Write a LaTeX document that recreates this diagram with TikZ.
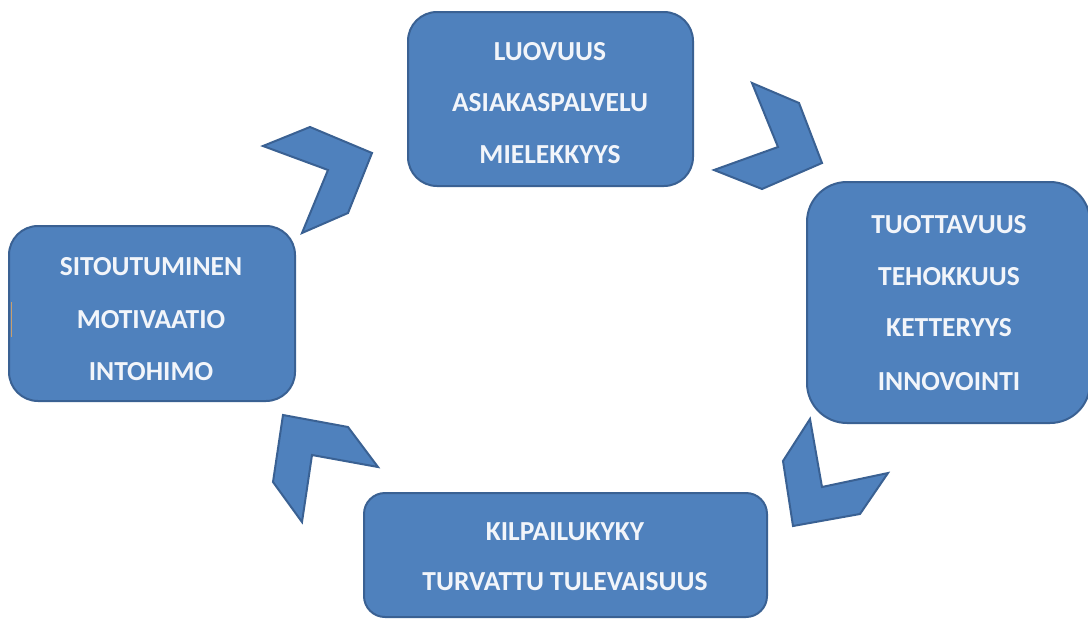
\documentclass[tikz,border=0pt]{standalone}
\usepackage{fontspec}
\setmainfont{Carlito}
\definecolor{fillb}{HTML}{4F81BD}
\definecolor{lineb}{HTML}{3A6193}
\definecolor{txt}{HTML}{F2F5FA}
\definecolor{tanmark}{HTML}{C8A070}
\begin{document}
\begin{tikzpicture}[x=1pt,y=-1pt,
  box/.style={draw=lineb, fill=fillb, line width=2pt, rounded corners=#1, inner sep=0pt},
  box/.default=29pt,
  lbl/.style={text=txt, font=\fontsize{27.5}{30}\selectfont\bfseries, inner sep=0pt, anchor=center},
  chev/.style={draw=lineb, fill=fillb, line width=2pt, line join=miter}]
\clip (0,0) rectangle (1088,619);
\fill[white] (0,0) rectangle (1088,619);

% boxes
\node[box=29pt, minimum width=285, minimum height=174] (top) at (550.5,99) {};
\node[box=29pt, minimum width=286, minimum height=175] (left) at (152,313.5) {};
\node[box=40pt, minimum width=283, minimum height=241] (right) at (948.5,302.5) {};
\node[box=21pt, minimum width=403, minimum height=124] (bottom) at (565.5,555) {};

% labels
\node[lbl] (t1) at (550,52) {LUOVUUS};
\node[lbl] (t2) at (550,103) {ASIAKASPALVELU};
\node[lbl] (t3) at (550,155) {MIELEKKYYS};

\node[lbl] (l1) at (151,267) {SITOUTUMINEN};
\node[lbl] (l2) at (151,320) {MOTIVAATIO};
\node[lbl] (l3) at (151,372) {INTOHIMO};

\node[lbl] (r1) at (949,225) {TUOTTAVUUS};
\node[lbl] (r2) at (949,277) {TEHOKKUUS};
\node[lbl] (r3) at (949,328) {KETTERYYS};
\node[lbl] (r4) at (949,382) {INNOVOINTI};

\node[lbl] (b1) at (565,532) {KILPAILUKYKY};
\node[lbl] (b2) at (565,582) {TURVATTU TULEVAISUUS};

% chevrons
\draw[chev] (263,146) -- (310,127) -- (372,153) -- (348,213) -- (302,233) -- (328,170) -- cycle;
\draw[chev] (752,83) -- (799,103) -- (822,163) -- (762,189) -- (714,170) -- (778,147) -- cycle;
\draw[chev] (810,419) -- (783,461) -- (793,526) -- (860,514) -- (888,473) -- (822,487) -- cycle;
\draw[chev] (283,415) -- (348,427) -- (378,467) -- (312,455) -- (302,522) -- (273,482) -- cycle;

% small mark on left box edge
\draw[tanmark, line width=1.5pt] (11.5,302) -- (11.5,337);
\end{tikzpicture}
\end{document}
